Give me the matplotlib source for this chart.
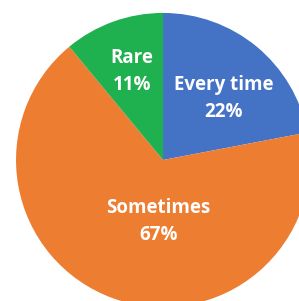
import matplotlib.pyplot as plt

# survey answer shares (clockwise from top)
labels = ["Every time", "Sometimes", "Rare"]
shares = [22, 67, 11]
colors = ["#4472C4", "#ED7D31", "#1FB04F"]

# where each label sits, in pie units (radius = 1)
label_pos = [(0.41, 0.42), (-0.03, -0.42), (-0.21, 0.60)]

plt.rcParams['font.family'] = ['Open Sans', 'DejaVu Sans']

fig = plt.figure(figsize=(2.99, 3.01), dpi=100)
ax = fig.add_axes([0, 0, 1, 1])
ax.pie(shares, colors=colors, startangle=90, counterclock=False,
       radius=1, center=(0, 0), wedgeprops=dict(linewidth=0))

for name, val, (x, y) in zip(labels, shares, label_pos):
    ax.text(x, y, f"{name}\n{val}%", ha="center", va="center",
            color="white", fontsize=13.5, fontweight="bold", linespacing=1.45)

ax.set_xlim(-1.109, 0.925)
ax.set_ylim(-0.959, 1.088)
ax.set_aspect("auto")
ax.axis("off")

fig.savefig("out.png", dpi=100)
